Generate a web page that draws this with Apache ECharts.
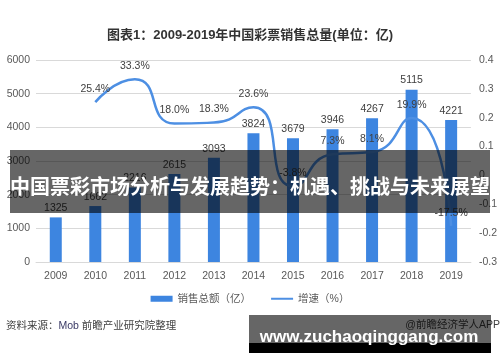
<!DOCTYPE html>
<html><head><meta charset="utf-8">
<script src="https://cdn.jsdelivr.net/npm/echarts@6/dist/echarts.min.js"></script>
<style>html,body{margin:0;padding:0;background:#fff}#c{width:500px;height:362px}</style>
</head><body><div id="c"></div>
<script>
const years = ['2009','2010','2011','2012','2013','2014','2015','2016','2017','2018','2019'];
const sales = [1325, 1662, 2216, 2615, 3093, 3824, 3679, 3946, 4267, 5115, 4221];
const growth = [null, 0.254, 0.333, 0.180, 0.183, 0.236, -0.038, 0.073, 0.081, 0.199, -0.175];
const leftTicks = {min: 0, max: 6000, interval: 1000};
const rightTicks = {min: -0.3, max: 0.4, interval: 0.1};
const titleText = '图表1：2009-2019年中国彩票销售总量(单位：亿)';
const legendNames = ['销售总额（亿）', '增速（%）'];
const bannerText = '中国票彩市场分析与发展趋势：机遇、挑战与未来展望';
const siteText = 'www.zuchaoqinggang.com';

const FONT = "'Liberation Sans', 'Noto Sans CJK SC', sans-serif";
const chart = echarts.init(document.getElementById('c'), null, {renderer: 'canvas'});
chart.setOption({
  animation: false,
  textStyle: {fontFamily: FONT},
  title: {
    text: titleText, left: 'center', top: 24,
    textStyle: {fontSize: 13, fontWeight: 'bold', color: '#333', fontFamily: FONT}
  },
  grid: {left: 36, right: 29, top: 60, bottom: 100},
  legend: {
    bottom: 53, left: 'center', itemGap: 19, itemWidth: 22, itemHeight: 6,
    textStyle: {fontSize: 10.5, color: '#595959', fontFamily: FONT},
    data: [
      {name: legendNames[0], icon: 'rect'},
      {name: legendNames[1], itemStyle: {opacity: 0}}
    ]
  },
  xAxis: {
    type: 'category', data: years,
    axisTick: {show: false},
    axisLine: {lineStyle: {color: '#d9d9d9'}},
    axisLabel: {color: '#595959', fontSize: 10.5, margin: 9}
  },
  yAxis: [
    {
      type: 'value', min: leftTicks.min, max: leftTicks.max, interval: leftTicks.interval,
      axisLine: {show: false}, axisTick: {show: false},
      splitLine: {lineStyle: {color: '#d9d9d9'}},
      axisLabel: {color: '#595959', fontSize: 10.5, margin: 6, formatter: v => String(v)}
    },
    {
      type: 'value', min: rightTicks.min, max: rightTicks.max, interval: rightTicks.interval,
      axisLine: {show: false}, axisTick: {show: false}, splitLine: {show: false},
      axisLabel: {color: '#595959', fontSize: 10.5, margin: 8,
        formatter: v => String(parseFloat(v.toFixed(1)))}
    }
  ],
  series: [
    {
      name: legendNames[0], type: 'bar', data: sales, barWidth: 12,
      itemStyle: {color: '#3d85e0'},
      label: {show: true, position: 'top', distance: 4, color: '#404040', fontSize: 10.5}
    },
    {
      name: legendNames[1], type: 'line', yAxisIndex: 1, data: growth,
      smooth: 0.6, symbol: 'circle', symbolSize: 0.01, showSymbol: true, connectNulls: false,
      lineStyle: {color: '#4d8fe3', width: 2.5},
      itemStyle: {color: '#4d8fe3'},
      label: {show: true, position: 'top', distance: 8, color: '#404040', fontSize: 10.5,
        formatter: p => (p.value * 100).toFixed(1) + '%'}
    }
  ],
  graphic: [
    {type: 'text', z: 50, left: 6, top: 321,
      style: {rich: {a: {fill: '#404040', fontSize: 10.5, fontFamily: FONT}, m: {fill: '#3a3a66', fontSize: 10.5, fontFamily: FONT}},
        text: '{a|资料来源：}{m|Mob}{a| 前瞻产业研究院整理}'}},
    {type: 'text', z: 50, right: 0, top: 320,
      style: {text: '@前瞻经济学人APP', fill: '#404040', fontSize: 10.5, fontFamily: FONT}},
    {type: 'rect', z: 100, shape: {x: 10, y: 150, width: 480, height: 63}, style: {fill: 'rgba(0,0,0,0.6)'}},
    {type: 'text', z: 101, x: 250, y: 186,
      style: {text: bannerText, fill: '#fff', fontSize: 20, fontWeight: 'bold',
        fontFamily: "'Noto Sans CJK SC', sans-serif", align: 'center', verticalAlign: 'middle'}},
    {type: 'rect', z: 100, shape: {x: 249, y: 315, width: 242, height: 28}, style: {fill: 'rgba(0,0,0,0.6)'}},
    {type: 'rect', z: 100, shape: {x: 249, y: 343, width: 242, height: 10}, style: {fill: '#000'}},
    {type: 'text', z: 101, x: 369, y: 337,
      style: {text: siteText, fill: '#fff', fontSize: 17, fontWeight: 'bold',
        fontFamily: "'Liberation Sans', sans-serif", align: 'center', verticalAlign: 'middle'}}
  ]
});
</script>
</body></html>
